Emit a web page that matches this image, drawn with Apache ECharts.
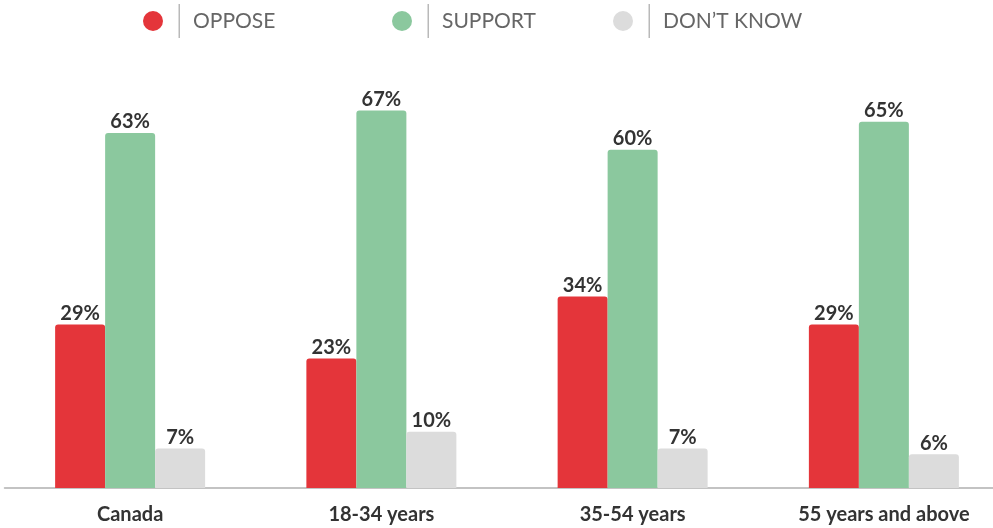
<!DOCTYPE html>
<html>
<head>
<meta charset="utf-8">
<script src="https://cdn.jsdelivr.net/npm/echarts@6/dist/echarts.min.js"></script>
<style>
  html, body { margin: 0; padding: 0; background: #fff; }
  #chart { width: 993px; height: 528px; }
</style>
</head>
<body>
<div id="chart"></div>
<script>
const categories = ['Canada', '18-34 years', '35-54 years', '55 years and above'];
const seriesNames = ['OPPOSE', 'SUPPORT', 'DON\u2019T KNOW'];
const opposeValues = [29, 23, 34, 29];
const supportValues = [63, 67, 60, 65];
const dontKnowValues = [7, 10, 7, 6];

const colors = ['#e4353a', '#8bc89e', '#dcdcdc'];
const fontFamily = 'Lato, "Open Sans", sans-serif';

const chart = echarts.init(document.getElementById('chart'), null, { renderer: 'canvas' });

// one legend per series so each entry sits at its own fixed offset;
// the rich text adds a gap and a thin vertical rule before each name
function legendFor(name, left) {
  return {
    data: [name],
    left: left,
    top: 4,
    padding: 0,
    icon: 'circle',
    itemWidth: 21,
    itemHeight: 20,
    itemGap: 0,
    selectedMode: false,
    formatter: '{gap| }{sep| }{txt|' + name + '}',
    textStyle: {
      rich: {
        gap: { width: 10, height: 34 },
        sep: { width: 1.5, height: 34, backgroundColor: '#b9b9b9' },
        txt: { fontFamily: fontFamily, fontSize: 21, color: '#666666', padding: [0, 0, 0, 13] }
      }
    }
  };
}

function barSeries(name, values) {
  return {
    name: name,
    type: 'bar',
    data: values,
    barWidth: 50,
    barGap: '0%',
    itemStyle: { borderRadius: [3, 3, 0, 0] },
    label: {
      show: true,
      position: 'top',
      distance: 1,
      formatter: '{c}%',
      fontFamily: fontFamily,
      fontWeight: 'bold',
      fontSize: 20,
      color: '#333333'
    }
  };
}

chart.setOption({
  color: colors,
  animation: false,
  legend: [
    legendFor(seriesNames[0], 143),
    legendFor(seriesNames[1], 392),
    legendFor(seriesNames[2], 613)
  ],
  grid: { left: 4.5, width: 1005, top: 93.5, bottom: 40, outerBoundsMode: 'none' },
  xAxis: {
    type: 'category',
    data: categories,
    axisTick: { show: false },
    axisLine: { lineStyle: { color: '#b0b0b0', width: 1.5 } },
    axisLabel: {
      margin: 17,
      fontFamily: fontFamily,
      fontWeight: 'bold',
      fontSize: 20,
      color: '#333333'
    }
  },
  yAxis: {
    type: 'value',
    min: 0,
    max: 70,
    show: false,
    splitLine: { show: false }
  },
  series: [
    barSeries(seriesNames[0], opposeValues),
    barSeries(seriesNames[1], supportValues),
    barSeries(seriesNames[2], dontKnowValues)
  ]
});
</script>
</body>
</html>
